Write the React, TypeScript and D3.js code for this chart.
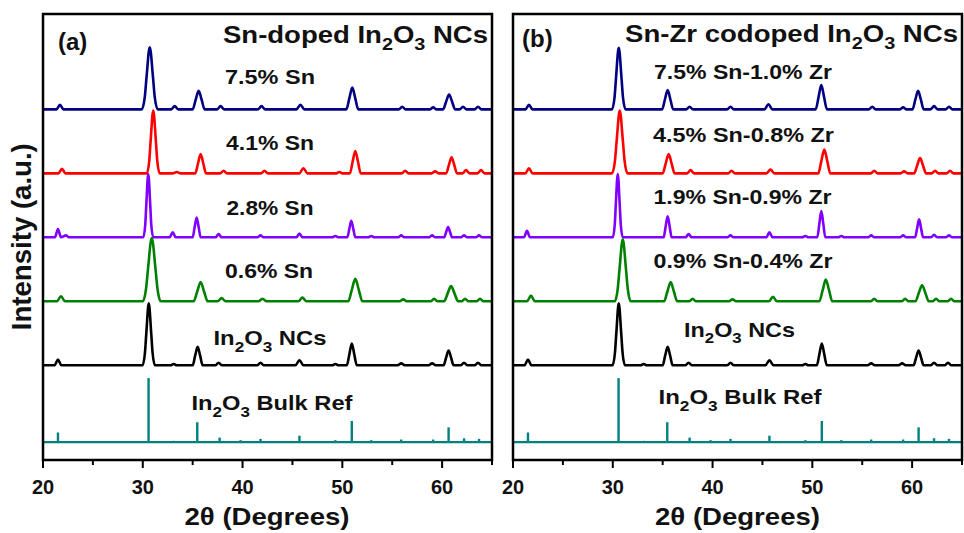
import React from "react";
import * as d3 from "d3";

// 2-theta axis
const xDomain = [20, 65];
const xMajor = [20, 30, 40, 50, 60];
const xMinor = [25, 35, 45, 55, 65];

// panel (a): Sn-doped
const sn75 = [
  [20, 0], [21.35, 0], [21.7, 0.07], [22.05, 0],
  [29.9, 0], [30.2, 0.19], [30.37, 0.49], [30.7, 0.97], [31.03, 0.49], [31.2, 0.19], [31.5, 0],
  [32.85, 0], [33.2, 0.05], [33.55, 0],
  [35.0, 0], [35.3, 0.15], [35.6, 0.29], [35.9, 0.15], [36.2, 0],
  [37.45, 0], [37.8, 0.05], [38.15, 0],
  [41.55, 0], [41.9, 0.05], [42.25, 0],
  [45.4, 0], [45.8, 0.07], [46.2, 0],
  [50.4, 0], [50.7, 0.17], [51.0, 0.34], [51.3, 0.17], [51.6, 0],
  [55.65, 0], [56.0, 0.04], [56.35, 0],
  [58.75, 0], [59.1, 0.03], [59.45, 0],
  [60.1, 0], [60.4, 0.12], [60.7, 0.23], [61.0, 0.12], [61.3, 0],
  [61.75, 0], [62.1, 0.04], [62.45, 0],
  [63.25, 0], [63.6, 0.04], [63.95, 0], [65, 0],
];
const sn41 = [
  [20, 0], [21.55, 0], [21.9, 0.07], [22.25, 0],
  [30.4, 0], [30.65, 0.2], [30.78, 0.49], [31.05, 0.98], [31.32, 0.49], [31.45, 0.2], [31.7, 0],
  [33.05, 0], [33.4, 0.02], [33.75, 0],
  [35.26, 0], [35.53, 0.15], [35.8, 0.3], [36.07, 0.15], [36.34, 0],
  [37.75, 0], [38.1, 0.04], [38.45, 0],
  [41.85, 0], [42.2, 0.04], [42.55, 0],
  [45.7, 0], [46.1, 0.08], [46.5, 0],
  [49.4, 0], [49.7, 0.02], [50.0, 0],
  [50.76, 0], [51.03, 0.18], [51.3, 0.35], [51.57, 0.18], [51.84, 0],
  [55.95, 0], [56.3, 0.04], [56.65, 0],
  [58.95, 0], [59.3, 0.03], [59.65, 0],
  [60.41, 0], [60.68, 0.13], [60.95, 0.25], [61.22, 0.13], [61.49, 0],
  [62.05, 0], [62.4, 0.05], [62.75, 0],
  [63.55, 0], [63.9, 0.05], [64.25, 0], [65, 0],
];
const sn28 = [
  [20, 0], [21.2, 0], [21.5, 0.13], [21.8, 0], [22.3, 0.03], [22.6, 0],
  [30.05, 0], [30.25, 0.2], [30.35, 0.5], [30.55, 0.99], [30.75, 0.5], [30.85, 0.2], [31.05, 0],
  [32.7, 0], [33.0, 0.08], [33.3, 0],
  [35.0, 0], [35.2, 0.16], [35.4, 0.31], [35.6, 0.16], [35.8, 0],
  [37.3, 0], [37.6, 0.05], [37.9, 0],
  [41.5, 0], [41.8, 0.03], [42.1, 0],
  [45.4, 0], [45.7, 0.06], [46.0, 0],
  [49.0, 0], [49.3, 0.02], [49.6, 0],
  [50.5, 0], [50.7, 0.13], [50.9, 0.26], [51.1, 0.13], [51.3, 0],
  [52.6, 0], [52.9, 0.02], [53.2, 0],
  [55.6, 0], [55.9, 0.03], [56.2, 0],
  [58.7, 0], [59.0, 0.03], [59.3, 0],
  [60.2, 0], [60.4, 0.08], [60.6, 0.16], [60.8, 0.08], [61.0, 0],
  [61.9, 0], [62.2, 0.03], [62.5, 0],
  [63.4, 0], [63.7, 0.03], [64.0, 0], [65, 0],
];
const sn06 = [
  [20, 0], [21.4, 0], [21.8, 0.08], [22.2, 0],
  [30.0, 0], [30.33, 0.2], [30.52, 0.5], [30.9, 0.99], [31.28, 0.5], [31.47, 0.2], [31.8, 0],
  [35.1, 0], [35.45, 0.15], [35.8, 0.3], [36.15, 0.15], [36.5, 0],
  [37.5, 0], [37.9, 0.05], [38.3, 0],
  [41.6, 0], [42.0, 0.04], [42.4, 0],
  [45.6, 0], [46.0, 0.06], [46.4, 0],
  [50.6, 0], [50.95, 0.18], [51.3, 0.35], [51.65, 0.18], [52.0, 0],
  [55.75, 0], [56.1, 0.03], [56.45, 0],
  [58.85, 0], [59.2, 0.04], [59.55, 0],
  [60.2, 0], [60.55, 0.12], [60.9, 0.24], [61.25, 0.12], [61.6, 0],
  [61.95, 0], [62.3, 0.04], [62.65, 0],
  [63.45, 0], [63.8, 0.04], [64.15, 0], [65, 0],
];
// undoped NCs (same sample in both panels)
const nc = [
  [20, 0], [21.15, 0], [21.5, 0.09], [21.85, 0],
  [29.98, 0], [30.22, 0.2], [30.35, 0.49], [30.6, 0.97], [30.85, 0.49], [30.98, 0.2], [31.22, 0],
  [32.8, 0], [33.1, 0.02], [33.4, 0],
  [35.0, 0], [35.25, 0.15], [35.5, 0.29], [35.75, 0.15], [36.0, 0],
  [37.25, 0], [37.6, 0.04], [37.95, 0],
  [41.45, 0], [41.8, 0.04], [42.15, 0],
  [45.3, 0], [45.7, 0.08], [46.1, 0],
  [49.0, 0], [49.3, 0.02], [49.6, 0],
  [50.45, 0], [50.7, 0.17], [50.95, 0.34], [51.2, 0.17], [51.45, 0],
  [55.55, 0], [55.9, 0.03], [56.25, 0],
  [58.65, 0], [59.0, 0.03], [59.35, 0],
  [60.15, 0], [60.4, 0.12], [60.65, 0.23], [60.9, 0.12], [61.15, 0],
  [61.85, 0], [62.2, 0.04], [62.55, 0],
  [63.25, 0], [63.6, 0.04], [63.95, 0], [65, 0],
];

// panel (b): Sn-Zr codoped
const snzr75 = [
  [20, 0], [21.25, 0], [21.6, 0.07], [21.95, 0],
  [29.92, 0], [30.18, 0.19], [30.32, 0.48], [30.6, 0.96], [30.88, 0.48], [31.02, 0.19], [31.28, 0],
  [34.94, 0], [35.22, 0.15], [35.5, 0.3], [35.78, 0.15], [36.06, 0],
  [37.35, 0], [37.7, 0.04], [38.05, 0],
  [41.45, 0], [41.8, 0.04], [42.15, 0],
  [45.2, 0], [45.6, 0.08], [46.0, 0],
  [50.34, 0], [50.62, 0.19], [50.9, 0.38], [51.18, 0.19], [51.46, 0],
  [55.65, 0], [56.0, 0.04], [56.35, 0],
  [58.75, 0], [59.1, 0.03], [59.45, 0],
  [60.04, 0], [60.32, 0.15], [60.6, 0.29], [60.88, 0.15], [61.16, 0],
  [61.85, 0], [62.2, 0.05], [62.55, 0],
  [63.35, 0], [63.7, 0.04], [64.05, 0], [65, 0],
];
const snzr45 = [
  [20, 0], [21.25, 0], [21.6, 0.08], [21.95, 0],
  [29.92, 0], [30.22, 0.2], [30.38, 0.49], [30.7, 0.98], [31.02, 0.49], [31.18, 0.2], [31.48, 0],
  [35.0, 0], [35.3, 0.15], [35.6, 0.3], [35.9, 0.15], [36.2, 0],
  [37.45, 0], [37.8, 0.05], [38.15, 0],
  [41.55, 0], [41.9, 0.04], [42.25, 0],
  [45.4, 0], [45.8, 0.06], [46.2, 0],
  [50.6, 0], [50.9, 0.19], [51.2, 0.37], [51.5, 0.19], [51.8, 0],
  [55.85, 0], [56.2, 0.04], [56.55, 0],
  [58.85, 0], [59.2, 0.03], [59.55, 0],
  [60.2, 0], [60.5, 0.12], [60.8, 0.24], [61.1, 0.12], [61.4, 0],
  [61.95, 0], [62.3, 0.04], [62.65, 0],
  [63.45, 0], [63.8, 0.04], [64.15, 0], [65, 0],
];
const snzr19 = [
  [20, 0], [21.1, 0], [21.4, 0.1], [21.7, 0],
  [30.0, 0], [30.2, 0.2], [30.3, 0.5], [30.5, 0.99], [30.7, 0.5], [30.8, 0.2], [31.0, 0],
  [35.1, 0], [35.3, 0.17], [35.5, 0.33], [35.7, 0.17], [35.9, 0],
  [37.3, 0], [37.6, 0.05], [37.9, 0],
  [41.5, 0], [41.8, 0.03], [42.1, 0],
  [45.4, 0], [45.7, 0.08], [46.0, 0],
  [49.0, 0], [49.3, 0.02], [49.6, 0],
  [50.5, 0], [50.7, 0.21], [50.9, 0.41], [51.1, 0.21], [51.3, 0],
  [52.6, 0], [52.9, 0.02], [53.2, 0],
  [55.6, 0], [55.9, 0.03], [56.2, 0],
  [58.8, 0], [59.1, 0.03], [59.4, 0],
  [60.3, 0], [60.5, 0.14], [60.7, 0.28], [60.9, 0.14], [61.1, 0],
  [61.9, 0], [62.2, 0.04], [62.5, 0],
  [63.4, 0], [63.7, 0.03], [64.0, 0], [65, 0],
];
const snzr09 = [
  [20, 0], [21.4, 0], [21.8, 0.09], [22.2, 0],
  [30.2, 0], [30.5, 0.2], [30.67, 0.49], [31.0, 0.97], [31.33, 0.49], [31.5, 0.2], [31.8, 0],
  [35.14, 0], [35.47, 0.15], [35.8, 0.3], [36.13, 0.15], [36.46, 0],
  [37.65, 0], [38.0, 0.04], [38.35, 0],
  [41.65, 0], [42.0, 0.03], [42.35, 0],
  [45.65, 0], [46.05, 0.07], [46.45, 0],
  [50.7, 0], [51.03, 0.17], [51.35, 0.34], [51.68, 0.17], [52.0, 0],
  [55.85, 0], [56.2, 0.04], [56.55, 0],
  [58.95, 0], [59.3, 0.04], [59.65, 0],
  [60.34, 0], [60.67, 0.13], [61.0, 0.25], [61.33, 0.13], [61.66, 0],
  [62.05, 0], [62.4, 0.04], [62.75, 0],
  [63.55, 0], [63.9, 0.04], [64.25, 0], [65, 0],
];

// bulk In2O3 reference lines
const refPos = [21.5, 30.58, 33.1, 35.46, 37.7, 39.8, 41.8, 45.7, 49.3, 50.95, 52.9, 55.9, 59.1, 60.65, 62.2, 63.7];
const refInt = [0.15, 1.0, 0.02, 0.31, 0.07, 0.03, 0.05, 0.1, 0.03, 0.33, 0.03, 0.04, 0.04, 0.23, 0.06, 0.05];

const labelsA = ["7.5% Sn", "4.1% Sn", "2.8% Sn", "0.6% Sn", "In_2O_3 NCs", "In_2O_3 Bulk Ref"];
const labelsB = ["7.5% Sn-1.0% Zr", "4.5% Sn-0.8% Zr", "1.9% Sn-0.9% Zr", "0.9% Sn-0.4% Zr", "In_2O_3 NCs", "In_2O_3 Bulk Ref"];

const colors = ["#000080", "#ff0000", "#8000ff", "#008000", "#000000"];
const refColor = "#008080";
const offsets = [5.2, 4.2, 3.2, 2.2, 1.2];

const FONT = "'Liberation Sans', Arial, sans-serif";
const TOP = 14;
const BOTTOM = 460;

const panels = [
  {
    x0: 43, x1: 492, tag: "(a)", tagX: 58, tagY: 50,
    title: "Sn-doped In_2O_3 NCs", titleX: 488, titleY: 43, titleW: 265,
    traces: [sn75, sn41, sn28, sn06, nc], labels: labelsA,
    labelX: [270, 270, 270, 269, 270, 272],
    labelY: [84, 150, 215, 277.5, 345, 410],
    labelW: [90, 88, 87, 88, 113, 161],
    axisX: 267,
  },
  {
    x0: 513, x1: 962, tag: "(b)", tagX: 522, tagY: 47,
    title: "Sn-Zr codoped In_2O_3 NCs", titleX: 958, titleY: 42, titleW: 333,
    traces: [snzr75, snzr45, snzr19, snzr09, nc], labels: labelsB,
    labelX: [743, 743.5, 742.5, 743, 739.5, 740],
    labelY: [78.5, 142, 204, 268, 336.7, 404],
    labelW: [178, 181, 178, 179, 111, 163],
    axisX: 737.5,
  },
];

const rich = (s: string, fs: number) => {
  const parts = s.split(/_(\d)/);
  const sub = fs * 0.32;
  return parts.map((p, i) =>
    i % 2 ? (
      <tspan key={i} dy={sub} fontSize={fs * 0.72}>{p}</tspan>
    ) : (
      <tspan key={i} dy={i > 0 ? -sub : 0}>{p}</tspan>
    )
  );
};

const y = d3.scaleLinear().domain([-0.28, 6.69]).range([BOTTOM, TOP]);

const Panel = ({ p, idx }: { p: any; idx: number }) => {
  const x = d3.scaleLinear().domain(xDomain).range([p.x0, p.x1]);
  const clipId = "clip" + idx;
  return (
    <g>
      <clipPath id={clipId}>
        <rect x={p.x0} y={TOP} width={p.x1 - p.x0} height={BOTTOM - TOP} />
      </clipPath>
      <g clipPath={`url(#${clipId})`}>
        {/* bulk reference sticks */}
        <line x1={p.x0} x2={p.x1} y1={y(0)} y2={y(0)} stroke={refColor} strokeWidth={2.4} />
        {refPos.map((d, i) => (
          <line key={i} x1={x(d)} x2={x(d)} y1={y(0)} y2={y(refInt[i])} stroke={refColor} strokeWidth={2.4} />
        ))}
        {p.traces.map((t: number[][], i: number) => {
          const line = d3
            .line<number[]>()
            .x((d) => x(d[0]))
            .y((d) => y(d[1] + offsets[i]))
            .curve(d3.curveMonotoneX);
          return (
            <path key={i} d={line(t) || ""} fill="none" stroke={colors[i]} strokeWidth={2.6} strokeLinejoin="round" />
          );
        })}
      </g>
      <rect x={p.x0} y={TOP} width={p.x1 - p.x0} height={BOTTOM - TOP} fill="none" stroke="#000" strokeWidth={2.5} />
      {xMajor.map((t) => (
        <g key={t}>
          <line x1={x(t)} x2={x(t)} y1={BOTTOM} y2={BOTTOM + 8} stroke="#000" strokeWidth={2} />
          <text x={x(t)} y={494} textAnchor="middle" fontSize={20} fontWeight="bold" fontFamily={FONT} fill="#111">
            {t}
          </text>
        </g>
      ))}
      {xMinor.map((t) => (
        <line key={t} x1={x(t)} x2={x(t)} y1={BOTTOM} y2={BOTTOM + 5} stroke="#000" strokeWidth={2} />
      ))}
      <text x={p.axisX} y={525} textAnchor="middle" fontSize={24} fontWeight="bold" fontFamily={FONT} fill="#111"
        textLength={165} lengthAdjust="spacingAndGlyphs">
        2θ (Degrees)
      </text>
      <text x={p.tagX} y={p.tagY} fontSize={24} fontWeight="bold" fontFamily={FONT} fill="#111">
        {p.tag}
      </text>
      <text x={p.titleX} y={p.titleY} textAnchor="end" fontSize={23} fontWeight="bold" fontFamily={FONT} fill="#111"
        textLength={p.titleW} lengthAdjust="spacingAndGlyphs">
        {rich(p.title, 23)}
      </text>
      {p.labels.map((s: string, i: number) => (
        <text key={i} x={p.labelX[i]} y={p.labelY[i]} textAnchor="middle" fontSize={21} fontWeight="bold"
          fontFamily={FONT} fill="#111" textLength={p.labelW[i]} lengthAdjust="spacingAndGlyphs">
          {rich(s, 21)}
        </text>
      ))}
    </g>
  );
};

export default function App() {
  return (
    <svg width={964} height={533} style={{ position: "absolute", left: 0, top: 0, background: "#fff" }}>
      {panels.map((p, i) => (
        <Panel key={i} p={p} idx={i} />
      ))}
      <text transform="translate(31,236.7) rotate(-90)" textAnchor="middle" fontSize={27} fontWeight="bold"
        fontFamily={FONT} fill="#111" textLength={187} lengthAdjust="spacingAndGlyphs">
        Intensity (a.u.)
      </text>
    </svg>
  );
}
